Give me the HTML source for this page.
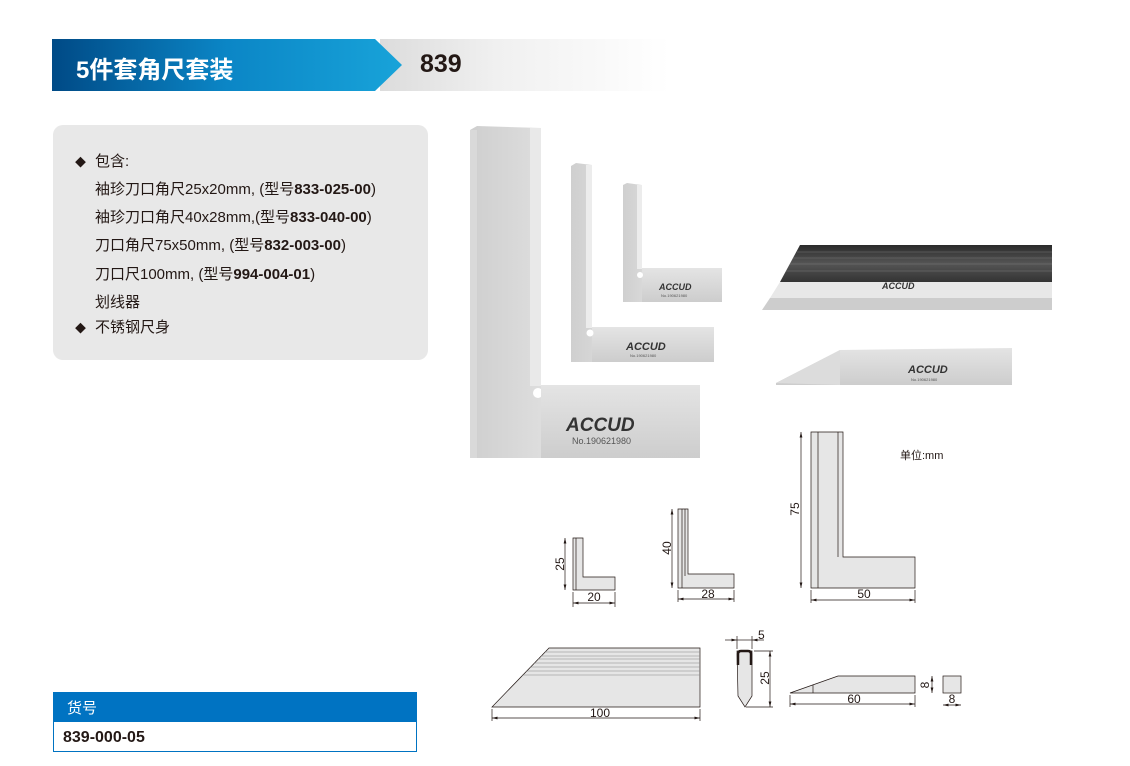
<!DOCTYPE html>
<html><head><meta charset="utf-8">
<style>
*{margin:0;padding:0;box-sizing:border-box}
body{width:1130px;height:766px;background:#fff;position:relative;overflow:hidden;font-family:"Liberation Sans","Noto Sans CJK SC",sans-serif;color:#231815}
.abs{position:absolute}
.panel{left:53px;top:125px;width:375px;height:235px;background:#e8e8e8;border-radius:10px}
.ln{position:absolute;left:95px;font-size:15px;white-space:nowrap}
.bul{position:absolute;left:75px;font-size:11px}
</style></head><body>
<div class="abs" style="left:380px;top:39px;width:290px;height:52px;background:linear-gradient(90deg,#dcdcdc,#f0f0f0 40%,#fff)"></div>
<svg class="abs" style="left:52px;top:39px" width="360" height="52">
<defs><linearGradient id="hg" x1="0" x2="1"><stop offset="0" stop-color="#004a86"/><stop offset="0.5" stop-color="#0b86c6"/><stop offset="1" stop-color="#18a3d9"/></linearGradient></defs>
<polygon points="0,0 323,0 350,26 323,52 0,52" fill="url(#hg)"/>
</svg>
<div class="abs" style="left:76px;top:50px;font-size:24px;font-weight:bold;color:#fff">5件套角尺套装</div>
<div class="abs" style="left:420px;top:50px;font-size:25px;font-weight:bold;color:#231815">839</div>

<div class="abs panel"></div>
<div class="bul" style="top:154px">◆</div>
<div class="ln" style="top:150px">包含:</div>
<div class="ln" style="top:178px">袖珍刀口角尺25x20mm, (型号<b>833-025-00</b>)</div>
<div class="ln" style="top:206px">袖珍刀口角尺40x28mm,(型号<b>833-040-00</b>)</div>
<div class="ln" style="top:234px">刀口角尺75x50mm, (型号<b>832-003-00</b>)</div>
<div class="ln" style="top:263px">刀口尺100mm, (型号<b>994-004-01</b>)</div>
<div class="ln" style="top:291px">划线器</div>
<div class="bul" style="top:320px">◆</div>
<div class="ln" style="top:316px">不锈钢尺身</div>

<div class="abs" style="left:53px;top:692px;width:364px;height:60px;border:1px solid #0073c2"></div>
<div class="abs" style="left:53px;top:692px;width:364px;height:30px;background:#0073c2;color:#fff;font-size:15px;padding:5px 0 0 14px">货号</div>
<div class="abs" style="left:63px;top:729px;font-size:16px;font-weight:bold">839-000-05</div>

<svg class="abs" style="left:0;top:0" width="1130" height="766">
<defs>
<linearGradient id="st" x1="0" x2="1"><stop offset="0" stop-color="#cfcfcf"/><stop offset=".5" stop-color="#e6e6e6"/><stop offset="1" stop-color="#d2d2d2"/></linearGradient>
<linearGradient id="st2" x1="0" y1="0" x2="0" y2="1"><stop offset="0" stop-color="#e4e4e4"/><stop offset="1" stop-color="#cdcdcd"/></linearGradient>
<linearGradient id="dk" x1="0" y1="0" x2="0" y2="1"><stop offset="0" stop-color="#2a2a2a"/><stop offset=".5" stop-color="#555"/><stop offset="1" stop-color="#333"/></linearGradient>
</defs>
<path d="M470,130 L477,126 L541,128 L541,385 L700,385 L700,458 L470,458 Z" fill="url(#st)"/>
<rect x="530" y="128" width="11" height="258" fill="#e9e9e9"/>
<rect x="470" y="130" width="7" height="328" fill="#d9d9d9"/>
<circle cx="538" cy="393" r="5" fill="#fff"/>
<rect x="541" y="385" width="159" height="73" fill="url(#st2)"/>
<text x="566" y="431" font-size="19" font-family="Liberation Sans" font-weight="bold" font-style="italic" fill="#333">ACCUD</text>
<text x="572" y="444" font-size="9" fill="#555" font-family="Liberation Sans">No.190621980</text>
<path d="M571,166 L576,163 L592,165 L592,327 L714,327 L714,362 L571,362 Z" fill="url(#st)"/>
<rect x="586" y="165" width="6" height="163" fill="#ececec"/>
<rect x="592" y="327" width="122" height="35" fill="url(#st2)"/>
<circle cx="590" cy="333" r="3.5" fill="#fff"/>
<text x="626" y="350" font-size="11" font-weight="bold" font-style="italic" fill="#333" font-family="Liberation Sans">ACCUD</text>
<text x="630" y="357" font-size="4" fill="#555" font-family="Liberation Sans">No.190621980</text>
<path d="M623,185 L627,183 L642,185 L642,268 L722,268 L722,302 L623,302 Z" fill="url(#st)"/>
<rect x="637" y="185" width="5" height="84" fill="#ececec"/>
<rect x="642" y="268" width="80" height="34" fill="url(#st2)"/>
<circle cx="640" cy="275" r="3" fill="#fff"/>
<text x="659" y="290" font-size="9" font-weight="bold" font-style="italic" fill="#333" font-family="Liberation Sans">ACCUD</text>
<text x="661" y="297" font-size="4" fill="#555" font-family="Liberation Sans">No.190621980</text>
<polygon points="800,245 1052,245 1052,282 780,282" fill="url(#dk)"/>
<g stroke="#777" stroke-width=".6"><line x1="797" y1="252" x2="1052" y2="252"/><line x1="793" y1="258" x2="1052" y2="258"/><line x1="790" y1="264" x2="1052" y2="264"/><line x1="786" y1="271" x2="1052" y2="271"/></g>
<polygon points="780,282 1052,282 1052,298 770,298" fill="#e8e8e8"/>
<polygon points="770,298 1052,298 1052,310 762,310" fill="#cdcdcd"/>
<text x="882" y="289" font-size="9" font-weight="bold" font-style="italic" fill="#333" font-family="Liberation Sans">ACCUD</text>
<polygon points="776,383 840,350 1012,348 1012,385 776,385" fill="url(#st2)"/>
<polygon points="776,383 840,350 840,385" fill="#dcdcdc"/>
<text x="908" y="373" font-size="11" font-weight="bold" font-style="italic" fill="#333" font-family="Liberation Sans">ACCUD</text>
<text x="911" y="381" font-size="4" fill="#555" font-family="Liberation Sans">No.190621980</text>
</svg>

<svg class="abs" style="left:0;top:0" width="1130" height="766" font-family="Liberation Sans" font-size="12" fill="#231815">
<defs><marker id="a" markerWidth="8" markerHeight="6" refX="8" refY="3" orient="auto-start-reverse"><path d="M0,1 L8,3 L0,5 Z" fill="#231815"/></marker></defs>
<g stroke="#231815" stroke-width=".7" fill="#e6e6e6">
<path d="M573,538 L583,538 L583,577 L615,577 L615,590 L573,590 Z"/>
<line x1="576" y1="538" x2="576" y2="590"/>
<path d="M678,509 L688,509 L688,574 L734,574 L734,588 L678,588 Z"/>
<line x1="682" y1="509" x2="682" y2="588"/><line x1="685" y1="509" x2="685" y2="576"/>
<path d="M811,432 L843,432 L843,557 L915,557 L915,588 L811,588 Z"/>
<line x1="818" y1="432" x2="818" y2="588"/><line x1="838" y1="432" x2="838" y2="557"/>
<path d="M549,648 L700,648 L700,707 L492,707 Z"/>
<path d="M737,651 L752,651 L752,696 L745,707 L738,696 Z"/>
<path d="M790,693 L838,676 L915,676 L915,693 Z"/><line x1="813" y1="685" x2="813" y2="693"/>
<rect x="943" y="676" width="18" height="17"/>
</g>
<g stroke="#888" stroke-width=".6">
<line x1="545" y1="652" x2="700" y2="652"/><line x1="541" y1="656" x2="700" y2="656"/><line x1="538" y1="659" x2="700" y2="659"/><line x1="534" y1="663" x2="700" y2="663"/><line x1="530" y1="667" x2="700" y2="667"/><line x1="526" y1="671" x2="700" y2="671"/><line x1="522" y1="675" x2="700" y2="675"/>
</g>
<path d="M738,665 L738,654 Q738,651 741,651 L748,651 Q751,651 751,654 L751,665" fill="none" stroke="#231815" stroke-width="2.5"/>
<g stroke="#231815" stroke-width=".7" fill="none">
<line x1="565" y1="538" x2="565" y2="590" marker-start="url(#a)" marker-end="url(#a)"/>
<line x1="573" y1="603" x2="615" y2="603" marker-start="url(#a)" marker-end="url(#a)"/>
<line x1="573" y1="592" x2="573" y2="607"/><line x1="615" y1="592" x2="615" y2="607"/>
<line x1="672" y1="509" x2="672" y2="588" marker-start="url(#a)" marker-end="url(#a)"/>
<line x1="678" y1="599" x2="734" y2="599" marker-start="url(#a)" marker-end="url(#a)"/>
<line x1="678" y1="590" x2="678" y2="602"/><line x1="734" y1="590" x2="734" y2="602"/>
<line x1="801" y1="432" x2="801" y2="588" marker-start="url(#a)" marker-end="url(#a)"/>
<line x1="811" y1="600" x2="915" y2="600" marker-start="url(#a)" marker-end="url(#a)"/>
<line x1="811" y1="590" x2="811" y2="603"/><line x1="915" y1="590" x2="915" y2="603"/>
<line x1="492" y1="718" x2="700" y2="718" marker-start="url(#a)" marker-end="url(#a)"/>
<line x1="492" y1="709" x2="492" y2="721"/><line x1="700" y1="709" x2="700" y2="721"/>
<line x1="725" y1="640" x2="737" y2="640" marker-end="url(#a)"/><line x1="764" y1="640" x2="752" y2="640" marker-end="url(#a)"/><line x1="737" y1="640" x2="752" y2="640"/>
<line x1="737" y1="636" x2="737" y2="649"/><line x1="752" y1="636" x2="752" y2="649"/>
<line x1="770" y1="651" x2="770" y2="707" marker-start="url(#a)" marker-end="url(#a)"/>
<line x1="754" y1="651" x2="773" y2="651"/><line x1="746" y1="707" x2="773" y2="707"/>
<line x1="790" y1="704" x2="915" y2="704" marker-start="url(#a)" marker-end="url(#a)"/>
<line x1="790" y1="695" x2="790" y2="707"/><line x1="915" y1="695" x2="915" y2="707"/>
<line x1="932" y1="676" x2="932" y2="693" marker-start="url(#a)" marker-end="url(#a)"/>
<line x1="943" y1="705" x2="961" y2="705" marker-start="url(#a)" marker-end="url(#a)"/>
</g>
<text x="564" y="564" transform="rotate(-90 564 564)" text-anchor="middle">25</text>
<text x="594" y="601" text-anchor="middle">20</text>
<text x="671" y="548" transform="rotate(-90 671 548)" text-anchor="middle">40</text>
<text x="708" y="598" text-anchor="middle">28</text>
<text x="799" y="509" transform="rotate(-90 799 509)" text-anchor="middle">75</text>
<text x="864" y="598" text-anchor="middle">50</text>
<text x="600" y="717" text-anchor="middle">100</text>
<text x="758" y="639">5</text>
<text x="769" y="678" transform="rotate(-90 769 678)" text-anchor="middle">25</text>
<text x="854" y="703" text-anchor="middle">60</text>
<text x="929" y="685" transform="rotate(-90 929 685)" text-anchor="middle">8</text>
<text x="952" y="703" text-anchor="middle">8</text>
<text x="900" y="459" font-size="11">单位:mm</text>
</svg>
</body></html>
